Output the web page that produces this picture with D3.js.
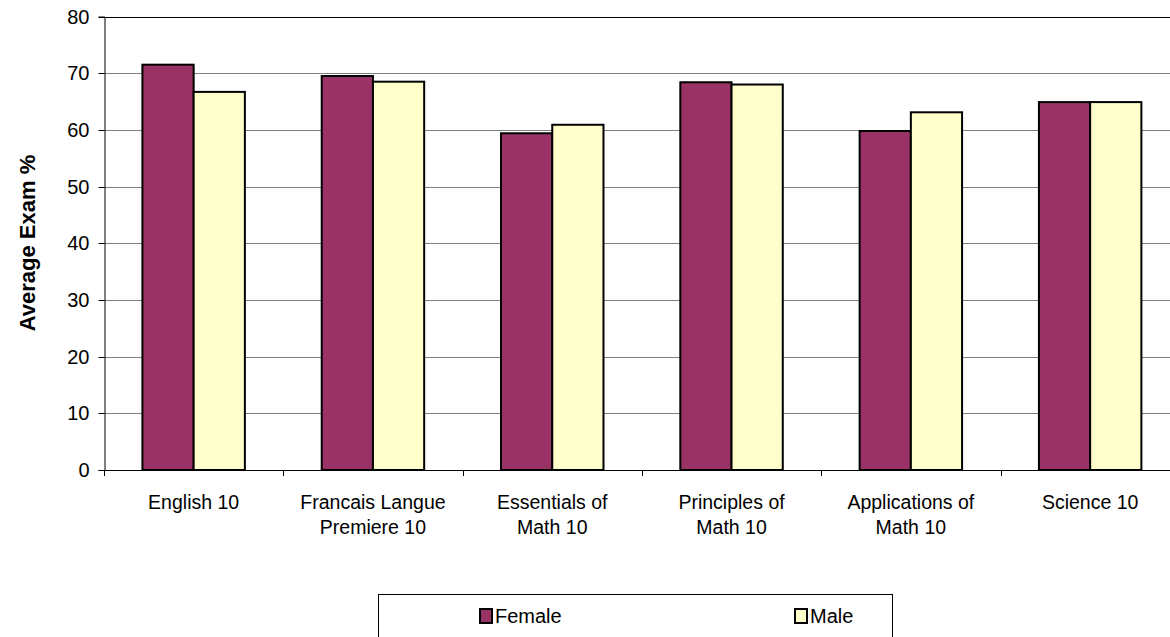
<!DOCTYPE html>
<html><head><meta charset="utf-8">
<script src="https://cdn.jsdelivr.net/npm/d3@7"></script>
<style>body{margin:0;background:#fff}svg{display:block;font-family:"Liberation Sans",Arial,sans-serif}</style>
</head><body>
<svg id="c" width="1170" height="637"></svg>
<script>
const categories = [["English 10"],["Francais Langue","Premiere 10"],["Essentials of","Math 10"],["Principles of","Math 10"],["Applications of","Math 10"],["Science 10"]];
const seriesNames = ["Female","Male"];
const female = [71.5, 69.5, 59.4, 68.4, 59.8, 64.9];
const male = [66.7, 68.5, 60.9, 68.0, 63.1, 64.9];
const yTicks = [0,10,20,30,40,50,60,70,80];
const colors = ["#993366","#FFFFCC"];

(function(){
const svg = d3.select("#c");
const pLeft = 104, pTop = 16.5, pBottom = 470, band = 179.3;
const x = d3.scaleBand().domain(d3.range(categories.length)).range([pLeft, pLeft + band*categories.length]).paddingInner(0).paddingOuter(0);
const y = d3.scaleLinear().domain([0,80]).range([pBottom, pTop]);
const bw = band/3.5;
const xs = d3.scaleBand().domain([0,1]).range([0, bw*2]);

// gridlines
svg.append("g").selectAll("line").data(yTicks.filter(d=>d>0)).join("line")
  .attr("x1", pLeft).attr("x2", pLeft + band*6).attr("y1", d=>Math.round(y(d))+0.5).attr("y2", d=>Math.round(y(d))+0.5)
  .attr("stroke", d=> d===80 ? "#000" : "#808080").attr("stroke-width",1);

// y axis
const ya = svg.append("g").attr("transform",`translate(${pLeft+0.5},0)`)
  .call(d3.axisLeft(y).tickValues(yTicks).tickSize(6).tickPadding(9));
ya.select(".domain").attr("stroke","#000");
ya.selectAll("line").attr("stroke","#000");
ya.selectAll("text").attr("font-size",20).attr("fill","#000").attr("font-family","Liberation Sans, Arial, sans-serif");
ya.selectAll(".tick").attr("transform", d=>`translate(0,${Math.round(y(d))+0.5})`);

// bars
const data = categories.map((c,i)=>[female[i], male[i]]);
const g = svg.append("g").selectAll("g").data(data).join("g")
  .attr("transform",(d,i)=>`translate(${x(i) + (band - bw*2)/2},0)`);
g.selectAll("rect").data(d=>d.map((v,j)=>({v,j}))).join("rect")
  .attr("x", d=>xs(d.j)).attr("width", bw)
  .attr("y", d=>y(d.v)).attr("height", d=>pBottom - y(d.v))
  .attr("fill", d=>colors[d.j]).attr("stroke","#000").attr("stroke-width",2);

// x axis
svg.append("line").attr("x1",pLeft).attr("x2",pLeft+band*6).attr("y1",pBottom+0.5).attr("y2",pBottom+0.5).attr("stroke","#000");
svg.append("g").selectAll("line").data(d3.range(categories.length+1)).join("line")
  .attr("x1",d=>Math.round(pLeft+band*d)+0.5).attr("x2",d=>Math.round(pLeft+band*d)+0.5)
  .attr("y1",pBottom).attr("y2",pBottom+6).attr("stroke","#000");
const lab = svg.append("g").selectAll("text").data(categories).join("text")
  .attr("x",(d,i)=>x(i)+band/2).attr("y",509).attr("text-anchor","middle").attr("font-size",19.5).attr("fill","#000");
lab.selectAll("tspan").data(d=>d).join("tspan").attr("x",function(){return this.parentNode.getAttribute("x");})
  .attr("dy",(d,i)=>i===0?0:25).text(d=>d);

// y title
svg.append("text").attr("transform",`translate(35,243) rotate(-90)`).attr("text-anchor","middle")
  .attr("font-size",22).attr("font-weight","bold").text("Average Exam %");

// legend
svg.append("rect").attr("x",378.5).attr("y",594.5).attr("width",514).attr("height",60).attr("fill","#fff").attr("stroke","#000");
const lg = svg.append("g").selectAll("g").data(seriesNames).join("g")
  .attr("transform",(d,i)=>`translate(${[480,795][i]},0)`);
lg.append("rect").attr("x",0).attr("y",609).attr("width",12).attr("height",14).attr("fill",(d,i)=>colors[i]).attr("stroke","#000").attr("stroke-width",2);
lg.append("text").attr("x",15).attr("y",623).attr("font-size",20).text(d=>d);
})();
</script>
</body></html>
